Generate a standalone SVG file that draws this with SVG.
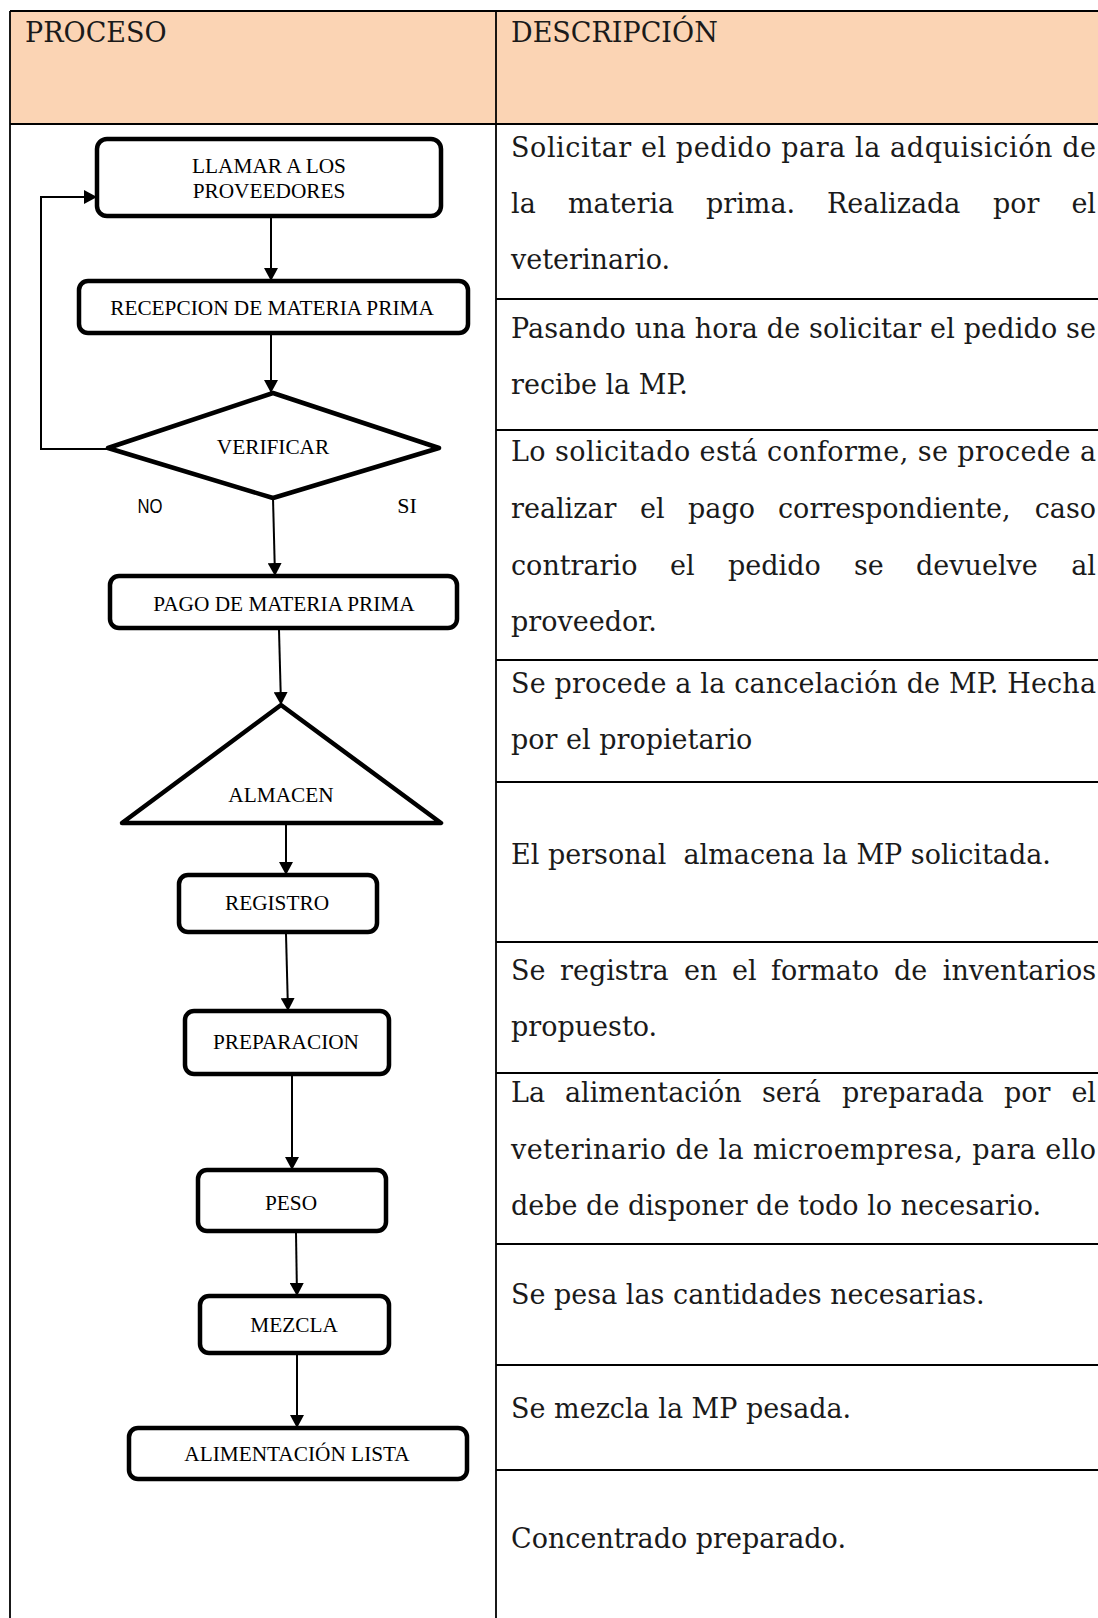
<svg xmlns="http://www.w3.org/2000/svg" width="1098" height="1618" viewBox="0 0 1098 1618">
  <style>
    .grid { stroke: #000; stroke-width: 1.8; fill: none; }
    .head { fill: #FBD4B4; }
    .desc { font-family: "DejaVu Serif", "Liberation Serif", serif; font-size: 27px; fill: #1a1a1a; }
    .end { text-anchor: end; }
    .box { fill: #fff; stroke: #000; stroke-width: 4.5; stroke-linejoin: round; }
    .lbl { font-family: "Liberation Serif", "Times New Roman", serif; font-size: 21.3px; fill: #000; text-anchor: middle; }
    .edge { stroke: #000; stroke-width: 2; fill: none; }
  </style>
  <defs>
    <marker id="arrow" markerUnits="userSpaceOnUse" markerWidth="14" markerHeight="14" refX="13" refY="7" orient="auto">
      <path d="M0,0 L13,7 L0,14 z" fill="#000"/>
    </marker>
  </defs>

  <rect width="1098" height="1618" fill="#fff"/>

  <!-- table header band -->
  <rect class="head" x="10" y="11" width="1088" height="113"/>

  <!-- table rules -->
  <g id="table-grid">
    <line class="grid" x1="10" y1="11" x2="1098" y2="11"/>
    <line class="grid" x1="10" y1="124" x2="1098" y2="124"/>
    <line class="grid" x1="10" y1="11" x2="10" y2="1618"/>
    <line class="grid" x1="496" y1="11" x2="496" y2="1618"/>
    <line class="grid" x1="496" y1="299" x2="1098" y2="299"/>
    <line class="grid" x1="496" y1="430" x2="1098" y2="430"/>
    <line class="grid" x1="496" y1="660" x2="1098" y2="660"/>
    <line class="grid" x1="496" y1="782" x2="1098" y2="782"/>
    <line class="grid" x1="496" y1="942" x2="1098" y2="942"/>
    <line class="grid" x1="496" y1="1073" x2="1098" y2="1073"/>
    <line class="grid" x1="496" y1="1244" x2="1098" y2="1244"/>
    <line class="grid" x1="496" y1="1365" x2="1098" y2="1365"/>
    <line class="grid" x1="496" y1="1470" x2="1098" y2="1470"/>
  </g>

  <!-- column headings -->
  <g id="headings">
    <text class="desc" x="25" y="42">PROCESO</text>
    <text class="desc" x="511" y="42">DESCRIPCIÓN</text>
  </g>

  <!-- description column; justified lines are laid out word by word -->
  <g id="descriptions">
    <text class="desc" x="511" y="157" textLength="585" lengthAdjust="spacing">Solicitar el pedido para la adquisición de</text>
    <g>
      <text class="desc" x="511" y="213">la</text>
      <text class="desc" x="568" y="213">materia</text>
      <text class="desc" x="706" y="213">prima.</text>
      <text class="desc" x="827" y="213">Realizada</text>
      <text class="desc" x="993" y="213">por</text>
      <text class="desc end" x="1096" y="213">el</text>
    </g>
    <text class="desc" x="511" y="269">veterinario.</text>

    <text class="desc" x="511" y="338" textLength="585" lengthAdjust="spacing">Pasando una hora de solicitar el pedido se</text>
    <text class="desc" x="511" y="394">recibe la MP.</text>

    <text class="desc" x="511" y="461" textLength="585" lengthAdjust="spacing">Lo solicitado está conforme, se procede a</text>
    <g>
      <text class="desc" x="511" y="518">realizar</text>
      <text class="desc" x="640" y="518">el</text>
      <text class="desc" x="688" y="518">pago</text>
      <text class="desc" x="778" y="518">correspondiente,</text>
      <text class="desc end" x="1096" y="518">caso</text>
    </g>
    <g>
      <text class="desc" x="511" y="575">contrario</text>
      <text class="desc" x="670" y="575">el</text>
      <text class="desc" x="728" y="575">pedido</text>
      <text class="desc" x="854" y="575">se</text>
      <text class="desc" x="916" y="575">devuelve</text>
      <text class="desc end" x="1096" y="575">al</text>
    </g>
    <text class="desc" x="511" y="631">proveedor.</text>

    <text class="desc" x="511" y="693" textLength="585" lengthAdjust="spacing">Se procede a la cancelación de MP. Hecha</text>
    <text class="desc" x="511" y="749">por el propietario</text>

    <text class="desc" x="511" y="864" xml:space="preserve">El personal  almacena la MP solicitada.</text>

    <g>
      <text class="desc" x="511" y="980">Se</text>
      <text class="desc" x="560" y="980">registra</text>
      <text class="desc" x="684" y="980">en</text>
      <text class="desc" x="732" y="980">el</text>
      <text class="desc" x="771" y="980">formato</text>
      <text class="desc" x="894" y="980">de</text>
      <text class="desc end" x="1096" y="980">inventarios</text>
    </g>
    <text class="desc" x="511" y="1036">propuesto.</text>

    <g>
      <text class="desc" x="511" y="1102">La</text>
      <text class="desc" x="565" y="1102">alimentación</text>
      <text class="desc" x="762" y="1102">será</text>
      <text class="desc" x="842" y="1102">preparada</text>
      <text class="desc" x="1004" y="1102">por</text>
      <text class="desc end" x="1096" y="1102">el</text>
    </g>
    <text class="desc" x="511" y="1159" textLength="585" lengthAdjust="spacing">veterinario de la microempresa, para ello</text>
    <text class="desc" x="511" y="1215">debe de disponer de todo lo necesario.</text>

    <text class="desc" x="511" y="1304">Se pesa las cantidades necesarias.</text>

    <text class="desc" x="511" y="1418">Se mezcla la MP pesada.</text>

    <text class="desc" x="511" y="1548">Concentrado preparado.</text>
  </g>

  <!-- flow connectors -->
  <g id="connectors">
    <line class="edge" x1="271" y1="217" x2="271" y2="281" marker-end="url(#arrow)"/>
    <line class="edge" x1="271" y1="333" x2="271" y2="393" marker-end="url(#arrow)"/>
    <polyline class="edge" stroke-width="1.6" points="108,449 41,449 41,197 97,197" marker-end="url(#arrow)"/>
    <line class="edge" x1="273" y1="498" x2="275" y2="576" marker-end="url(#arrow)"/>
    <line class="edge" x1="279" y1="630" x2="281" y2="705" marker-end="url(#arrow)"/>
    <line class="edge" x1="286" y1="825" x2="286" y2="875" marker-end="url(#arrow)"/>
    <line class="edge" x1="286" y1="934" x2="288" y2="1011" marker-end="url(#arrow)"/>
    <line class="edge" x1="292" y1="1076" x2="292" y2="1170" marker-end="url(#arrow)"/>
    <line class="edge" x1="296" y1="1233" x2="297" y2="1296" marker-end="url(#arrow)"/>
    <line class="edge" x1="297" y1="1355" x2="297" y2="1428" marker-end="url(#arrow)"/>
    <text x="150" y="513" font-family="Liberation Sans, Arial, sans-serif" font-size="21" text-anchor="middle" textLength="25" lengthAdjust="spacingAndGlyphs">NO</text>
    <text x="407" y="513" font-family="Liberation Serif, serif" font-size="22" text-anchor="middle">SI</text>
  </g>

  <!-- flowchart nodes -->
  <g id="n-llamar">
    <rect class="box" x="97" y="139" width="344" height="77" rx="10"/>
    <text class="lbl" x="269" y="173">LLAMAR A LOS</text>
    <text class="lbl" x="269" y="198">PROVEEDORES</text>
  </g>
  <g id="n-recepcion">
    <rect class="box" x="79" y="281" width="389" height="52" rx="9"/>
    <text class="lbl" x="272" y="315">RECEPCION DE MATERIA PRIMA</text>
  </g>
  <g id="n-verificar">
    <polygon class="box" points="108,448 273,393 439,448 273,498"/>
    <text class="lbl" x="273" y="454">VERIFICAR</text>
  </g>
  <g id="n-pago">
    <rect class="box" x="110" y="576" width="347" height="52" rx="9"/>
    <text class="lbl" x="284" y="611">PAGO DE MATERIA PRIMA</text>
  </g>
  <g id="n-almacen">
    <polygon class="box" points="281,705 441,823 122,823"/>
    <text class="lbl" x="281" y="802">ALMACEN</text>
  </g>
  <g id="n-registro">
    <rect class="box" x="179" y="875" width="198" height="57" rx="9"/>
    <text class="lbl" x="277" y="910">REGISTRO</text>
  </g>
  <g id="n-preparacion">
    <rect class="box" x="185" y="1011" width="204" height="63" rx="9"/>
    <text class="lbl" x="286" y="1049">PREPARACION</text>
  </g>
  <g id="n-peso">
    <rect class="box" x="198" y="1170" width="188" height="61" rx="9"/>
    <text class="lbl" x="291" y="1210">PESO</text>
  </g>
  <g id="n-mezcla">
    <rect class="box" x="200" y="1296" width="189" height="57" rx="9"/>
    <text class="lbl" x="294" y="1332">MEZCLA</text>
  </g>
  <g id="n-lista">
    <rect class="box" x="129" y="1428" width="338" height="51" rx="9"/>
    <text class="lbl" x="297" y="1461">ALIMENTACIÓN LISTA</text>
  </g>
</svg>
